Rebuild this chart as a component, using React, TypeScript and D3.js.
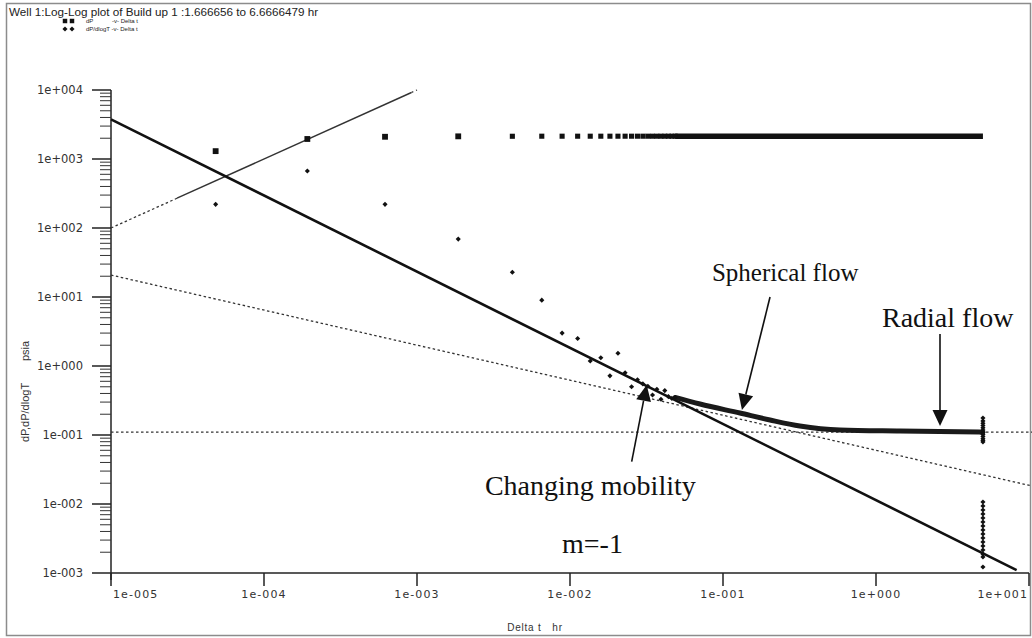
import React from 'react';
import * as d3 from 'd3';

const WIDTH = 1032;
const HEIGHT = 638;

// Early, individually resolved samples of the build-up (hr)
const DELTA_T = [
  4.83e-5, 1.92e-4, 6.18e-4, 1.86e-3, 4.2e-3, 6.54e-3, 8.88e-3, 1.122e-2,
  1.356e-2, 1.59e-2, 1.824e-2, 2.058e-2, 2.292e-2, 2.526e-2, 2.76e-2,
  2.994e-2, 3.228e-2, 3.462e-2, 3.696e-2, 3.93e-2, 4.164e-2, 4.398e-2,
  4.632e-2, 4.866e-2,
];
// Pressure change dP (psia) at those samples
const DP = [
  1300, 1950, 2100, 2130, 2135, 2140, 2140, 2140, 2140, 2140, 2140, 2140,
  2140, 2140, 2140, 2140, 2140, 2140, 2140, 2140, 2140, 2140, 2140, 2140,
];
// Bourdet derivative dP/dlogT (psia) at those samples
const DP_DLOGT = [
  220, 670, 220, 69, 22.8, 9.0, 3.0, 2.5, 1.18, 1.32, 0.72, 1.53, 0.8, 0.5,
  0.63, 0.55, 0.51, 0.38, 0.46, 0.33, 0.44, 0.36, 0.34, 0.35,
];

// Densely sampled remainder of the test (points overlap into a band)
const DP_TAIL_T = [4.866e-2, 5.0];
const DP_TAIL = [2140, 2140];
const DERIV_TAIL_T = [4.866e-2, 7.08e-2, 0.129, 0.203, 0.318, 0.582, 1.44, 5.0];
const DERIV_TAIL = [0.35, 0.281, 0.208, 0.165, 0.135, 0.118, 0.114, 0.11];

// Derivative values at the last time step (end effect)
const END_T = 5.0;
const END_UPPER = [0.176, 0.16, 0.148, 0.137, 0.127, 0.118, 0.11, 0.102, 0.095, 0.088, 0.083, 0.079];
const END_LOWER = [
  0.0107, 0.00935, 0.00818, 0.00716, 0.00627, 0.00548, 0.0048, 0.0042,
  0.00367, 0.00321, 0.00281, 0.00246, 0.00215, 0.00188, 0.00171, 0.00122,
];

// Straight-line fits on the log-log plot
const SLOPE_M1_T = [1e-5, 8.3];
const SLOPE_M1_V = [3760, 0.0011];
const UNIT_T = [1e-5, 2.7e-5, 9.2e-4, 1.0e-3];
const UNIT_V = [100, 270, 9200, 10000];
const HALF_T = [1e-5, 10.5];
const HALF_V = [20.8, 0.0182];
const RADIAL_T = [1e-5, 10.5];
const RADIAL_V = [0.11, 0.11];

// Axis ticks
const X_TICKS = [1e-5, 1e-4, 1e-3, 1e-2, 1e-1, 1, 10];
const X_TICK_LABELS = ['1e-005', '1e-004', '1e-003', '1e-002', '1e-001', '1e+000', '1e+001'];
const Y_TICKS = [1e-3, 1e-2, 1e-1, 1, 10, 100, 1000, 10000];
const Y_TICK_LABELS = ['1e-003', '1e-002', '1e-001', '1e+000', '1e+001', '1e+002', '1e+003', '1e+004'];

// Flow-regime annotations (text position and arrow tail/tip in data units)
const NOTES = [
  { text: 'Spherical flow', size: 25, at: [0.0847, 17.1], from: [0.203, 10.0], to: [0.133, 0.23] },
  { text: 'Radial flow', size: 28, at: [1.094, 3.67], from: [2.62, 2.91], to: [2.62, 0.135] },
  { text: 'Changing mobility', size: 28, at: [2.78e-3, 0.0135], from: [0.0253, 0.041], to: [0.0317, 0.531] },
  { text: 'm=-1', size: 28, at: [8.87e-3, 0.00195], from: null, to: null },
];

const x = d3.scaleLog().domain([1e-5, 10]).range([111, 1029]);
const y = d3.scaleLog().domain([1e-3, 1e4]).range([573, 90]);

const linePath = (ts: number[], vs: number[], curve = d3.curveLinear) =>
  d3
    .line<number>()
    .x((_, i) => x(ts[i]))
    .y((v) => y(v))
    .curve(curve)(vs) as string;

const square = d3.symbol().type(d3.symbolSquare);
const diamond = d3.symbol().type(d3.symbolSquare).size(13);

function Arrow({ from, to }: { from: number[]; to: number[] }) {
  const x0 = x(from[0]);
  const y0 = y(from[1]);
  const x1 = x(to[0]);
  const y1 = y(to[1]);
  const len = Math.hypot(x1 - x0, y1 - y0);
  const ux = (x1 - x0) / len;
  const uy = (y1 - y0) / len;
  const head = 16;
  const half = 7.5;
  const bx = x1 - ux * head;
  const by = y1 - uy * head;
  const pts = [
    [x1, y1],
    [bx - uy * half, by + ux * half],
    [bx + uy * half, by - ux * half],
  ];
  return (
    <g>
      <line x1={x0} y1={y0} x2={bx} y2={by} stroke="#111" strokeWidth={1.6} />
      <polygon points={pts.map((p) => p.join(',')).join(' ')} fill="#111" />
    </g>
  );
}

export default function App() {
  const minorY: number[] = [];
  for (let e = -3; e < 4; e++) {
    for (let m = 2; m <= 9; m++) minorY.push(m * Math.pow(10, e));
  }
  const axisFont = "'DejaVu Sans', sans-serif";
  const sans = "'Liberation Sans', Arial, sans-serif";

  return (
    <svg
      width={WIDTH}
      height={HEIGHT}
      viewBox={`0 0 ${WIDTH} ${HEIGHT}`}
      style={{ position: 'absolute', left: 0, top: 0, background: '#fff' }}
    >
      <rect x={0} y={0} width={WIDTH} height={HEIGHT} fill="#fff" />
      <rect x={6.5} y={3.5} width={1024} height={632} fill="none" stroke="#8c8c8c" strokeWidth={1.5} />

      {/* title and legend */}
      <text x={9} y={16} fontFamily={sans} fontSize={11.7} fill="#222">
        Well 1:Log-Log plot of Build up 1 :1.666656 to 6.6666479 hr
      </text>
      <g fontFamily={sans} fontSize={6} fill="#222">
        <path d={square.size(20)() as string} transform="translate(65,21)" fill="#111" />
        <path d={square.size(20)() as string} transform="translate(72,21)" fill="#111" />
        <text x={86} y={23}>dP</text>
        <text x={112} y={23}>-v- Delta t</text>
        <path d={diamond() as string} transform="translate(65,29) rotate(45)" fill="#111" />
        <path d={diamond() as string} transform="translate(72,29) rotate(45)" fill="#111" />
        <text x={86} y={31}>dP/dlogT -v- Delta t</text>
      </g>

      {/* y axis */}
      <line x1={111} y1={90} x2={111} y2={580} stroke="#222" strokeWidth={1.5} />
      {Y_TICKS.map((t, i) => (
        <g key={`yt${i}`}>
          <line x1={92} x2={111} y1={y(t)} y2={y(t)} stroke="#222" strokeWidth={1.5} />
          <text
            x={83}
            y={y(t)}
            textAnchor="end"
            dominantBaseline="central"
            fontFamily={axisFont}
            fontSize={11.5}
            fill="#333"
          >
            {Y_TICK_LABELS[i]}
          </text>
        </g>
      ))}
      {minorY.map((t, i) => (
        <line key={`ym${i}`} x1={100} x2={111} y1={y(t)} y2={y(t)} stroke="#333" strokeWidth={1} />
      ))}
      <text transform="translate(29,442) rotate(-90)" fontFamily={sans} fontSize={11} fill="#333">
        dP,dP/dlogT
      </text>
      <text transform="translate(29,361) rotate(-90)" fontFamily={sans} fontSize={11} fill="#333">
        psia
      </text>

      {/* x axis */}
      <line x1={111} y1={573} x2={1029} y2={573} stroke="#222" strokeWidth={1.5} />
      {X_TICKS.map((t, i) => (
        <g key={`xt${i}`}>
          <line x1={x(t)} x2={x(t)} y1={573} y2={586} stroke="#222" strokeWidth={1.5} />
          <text
            x={i === 0 ? x(t) + 2 : i === X_TICKS.length - 1 ? x(t) - 1 : x(t)}
            y={598}
            textAnchor={i === 0 ? 'start' : i === X_TICKS.length - 1 ? 'end' : 'middle'}
            fontFamily={axisFont}
            fontSize={11}
            letterSpacing={1.1}
            fill="#333"
          >
            {X_TICK_LABELS[i]}
          </text>
        </g>
      ))}
      <text
        x={535}
        y={631}
        textAnchor="middle"
        fontFamily={sans}
        fontSize={10}
        letterSpacing={0.8}
        fill="#333"
        style={{ whiteSpace: 'pre' }}
      >
        {'Delta t   hr'}
      </text>

      {/* straight-line fits */}
      <path d={linePath(HALF_T, HALF_V)} fill="none" stroke="#333" strokeWidth={1.3} strokeDasharray="2.5,2.5" />
      <path d={linePath(RADIAL_T, RADIAL_V)} fill="none" stroke="#333" strokeWidth={1.3} strokeDasharray="2.5,2.5" />
      <path d={linePath(UNIT_T.slice(0, 2), UNIT_V.slice(0, 2))} fill="none" stroke="#333" strokeWidth={1.3} strokeDasharray="2.5,2.5" />
      <path d={linePath(UNIT_T.slice(1, 3), UNIT_V.slice(1, 3))} fill="none" stroke="#333" strokeWidth={1.4} />
      <path d={linePath(UNIT_T.slice(2, 4), UNIT_V.slice(2, 4))} fill="none" stroke="#333" strokeWidth={1.3} strokeDasharray="2,3" />
      <path d={linePath(SLOPE_M1_T, SLOPE_M1_V)} fill="none" stroke="#111" strokeWidth={2.6} />

      {/* dP */}
      <path d={linePath(DP_TAIL_T, DP_TAIL)} fill="none" stroke="#111" strokeWidth={5.5} />
      {DELTA_T.map((t, i) => (
        <path
          key={`dp${i}`}
          d={square.size(i < 4 ? 34 : 26)() as string}
          transform={`translate(${x(t)},${y(DP[i])})`}
          fill="#111"
        />
      ))}

      {/* derivative */}
      <path
        d={linePath(DERIV_TAIL_T, DERIV_TAIL, d3.curveMonotoneX)}
        fill="none"
        stroke="#1a1a1a"
        strokeWidth={5}
        strokeLinecap="round"
      />
      {DELTA_T.map((t, i) => (
        <path
          key={`dd${i}`}
          d={diamond() as string}
          transform={`translate(${x(t)},${y(DP_DLOGT[i])}) rotate(45)`}
          fill="#111"
        />
      ))}
      {END_UPPER.map((v, i) => (
        <path
          key={`eu${i}`}
          d={diamond() as string}
          transform={`translate(${x(END_T)},${y(v)}) rotate(45)`}
          fill="#111"
        />
      ))}
      {END_LOWER.map((v, i) => (
        <path
          key={`el${i}`}
          d={diamond() as string}
          transform={`translate(${x(END_T)},${y(v)}) rotate(45)`}
          fill="#111"
        />
      ))}

      {/* annotations */}
      {NOTES.map((n, i) => (
        <g key={`n${i}`}>
          <text
            x={x(n.at[0])}
            y={y(n.at[1])}
            fontFamily="'Liberation Serif', 'Times New Roman', serif"
            fontSize={n.size}
            fill="#111"
          >
            {n.text}
          </text>
          {n.from && n.to ? <Arrow from={n.from} to={n.to} /> : null}
        </g>
      ))}
    </svg>
  );
}
